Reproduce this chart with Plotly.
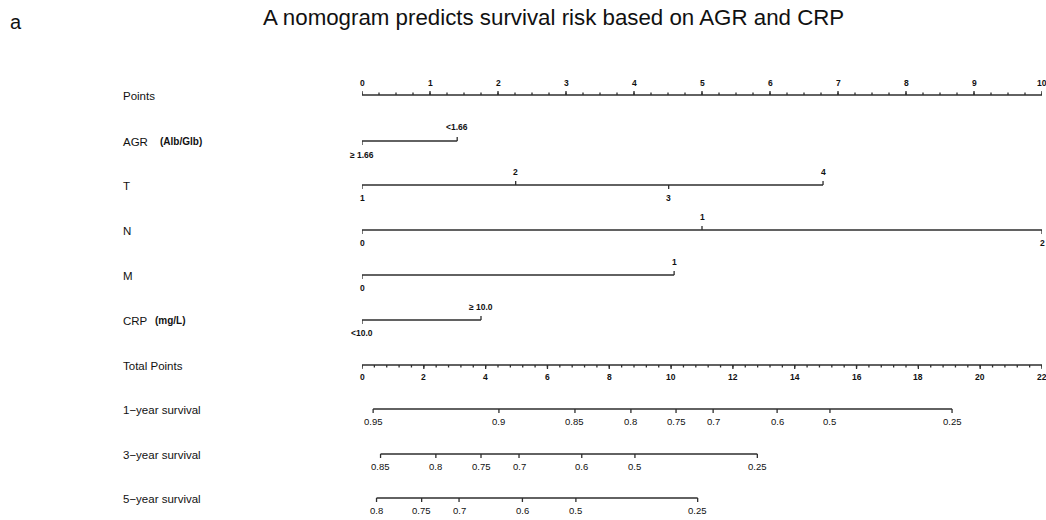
import plotly.graph_objects as go

# ---- figure geometry -------------------------------------------------------
W, H = 1046, 520
X0_PX, X1_PX = 362, 1042          # where the points scale starts / ends
POINTS_MAX = 10
TOTAL_MAX = 22

# ---- data ------------------------------------------------------------------
points_ticks = list(range(0, 11))
points_minor_step = 0.25

agr_labels = ["≥ 1.66", "<1.66"]
agr_points = [0.0, 1.40]

t_labels = ["1", "2", "3", "4"]
t_points = [0.0, 2.26, 4.51, 6.78]

n_labels = ["0", "1", "2"]
n_points = [0.0, 5.0, 10.0]

m_labels = ["0", "1"]
m_points = [0.0, 4.59]

crp_labels = ["<10.0", "≥ 10.0"]
crp_points = [0.0, 1.75]

total_ticks = list(range(0, 23, 2))
total_minor_step = 0.4

surv1_labels = ["0.95", "0.9", "0.85", "0.8", "0.75", "0.7", "0.6", "0.5", "0.25"]
surv1_total = [0.36, 4.43, 6.89, 8.70, 10.16, 11.36, 13.43, 15.14, 19.09]

surv3_labels = ["0.85", "0.8", "0.75", "0.7", "0.6", "0.5", "0.25"]
surv3_total = [0.60, 2.39, 3.85, 5.08, 7.11, 8.83, 12.79]

surv5_labels = ["0.8", "0.75", "0.7", "0.6", "0.5", "0.25"]
surv5_total = [0.47, 1.93, 3.14, 5.19, 6.92, 10.86]

# row names: (main label, unit label)
row_names = [
    ("Points", ""),
    ("AGR", "(Alb/Glb)"),
    ("T", ""),
    ("N", ""),
    ("M", ""),
    ("CRP", "(mg/L)"),
    ("Total Points", ""),
    ("1−year survival", ""),
    ("3−year survival", ""),
    ("5−year survival", ""),
]
row_y = [95, 141, 185, 230, 275, 320, 365, 409, 454, 498]

# ---- styling ---------------------------------------------------------------
LINE = "#2e2e2e"
LW = 1.3
FAMILY = "Liberation Sans, Arial, sans-serif"
TICK_FONT = dict(family=FAMILY, size=8.5, color="#111")
SURV_FONT = dict(family=FAMILY, size=9.5, color="#111")
LABEL_FONT = dict(family=FAMILY, size=11.5, color="#111")
UNIT_FONT = dict(family=FAMILY, size=10, color="#111")

fig = go.Figure()
annotations = []


def to_points(total):
    return total * POINTS_MAX / TOTAL_MAX


def add_segments(xs_pairs, ys_pairs, width=LW):
    xs, ys = [], []
    for (xa, xb), (ya, yb) in zip(xs_pairs, ys_pairs):
        xs += [xa, xb, None]
        ys += [ya, yb, None]
    fig.add_trace(go.Scatter(x=xs, y=ys, mode="lines",
                             line=dict(color=LINE, width=width),
                             hoverinfo="skip", showlegend=False))


def tick_text(x, y, text, bold=True, font=TICK_FONT):
    annotations.append(dict(x=x, y=y, xref="x", yref="y",
                            text=f"<b>{text}</b>" if bold else text,
                            showarrow=False, font=font,
                            xanchor="center", yanchor="middle"))


def scale_axis(y, major, labels, minor_step, lo, hi, up, conv=lambda v: v):
    """Continuous scale with major/minor ticks; ticks point toward labels."""
    d = -1 if up else 1
    segs_x, segs_y = [(conv(lo), conv(hi))], [(y, y)]
    n = int(round((hi - lo) / minor_step))
    for i in range(n + 1):
        v = lo + i * minor_step
        segs_x.append((conv(v), conv(v)))
        segs_y.append((y, y + d * 2.5))
    for v in major:
        segs_x.append((conv(v), conv(v)))
        segs_y.append((y, y + d * 4))
    add_segments(segs_x, segs_y)
    for v, lab in zip(major, labels):
        tick_text(conv(v), y + d * 12, lab)


def category_axis(y, pts, labels, off=13):
    segs_x, segs_y = [(min(pts), max(pts))], [(y, y)]
    for i, p in enumerate(pts):
        d = 1 if i % 2 == 0 else -1       # first label below, then alternate
        segs_x.append((p, p))
        segs_y.append((y, y + d * 4))
        tick_text(p, y + d * off, labels[i])
    add_segments(segs_x, segs_y)


def survival_axis(y, totals, labels):
    pts = [to_points(t) for t in totals]
    segs_x, segs_y = [(min(pts), max(pts))], [(y, y)]
    for p in pts:
        segs_x.append((p, p))
        segs_y.append((y, y + 4))
    add_segments(segs_x, segs_y)
    for p, lab in zip(pts, labels):
        tick_text(p, y + 12, lab, bold=False, font=SURV_FONT)


# Points scale
scale_axis(row_y[0], points_ticks, [str(v) for v in points_ticks],
           points_minor_step, 0, POINTS_MAX, up=True)

# predictors
category_axis(row_y[1], agr_points, agr_labels, off=14)
category_axis(row_y[2], t_points, t_labels)
category_axis(row_y[3], n_points, n_labels)
category_axis(row_y[4], m_points, m_labels)
category_axis(row_y[5], crp_points, crp_labels)

# Total points scale
scale_axis(row_y[6], total_ticks, [str(v) for v in total_ticks],
           total_minor_step, 0, TOTAL_MAX, up=False, conv=to_points)

# survival scales
survival_axis(row_y[7], surv1_total, surv1_labels)
survival_axis(row_y[8], surv3_total, surv3_labels)
survival_axis(row_y[9], surv5_total, surv5_labels)

# row labels on the left
for (name, unit), y in zip(row_names, row_y):
    annotations.append(dict(x=121 / W, y=y + 1, xref="paper", yref="y", text=name,
                            showarrow=False, font=LABEL_FONT,
                            xanchor="left", yanchor="middle"))
    if unit:
        ux = 158 if name == "AGR" else 153
        annotations.append(dict(x=ux / W, y=y, xref="paper", yref="y",
                                text=f"<b>{unit}</b>", showarrow=False, font=UNIT_FONT,
                                xanchor="left", yanchor="middle"))

# panel letter and title
annotations.append(dict(x=8 / W, y=22, xref="paper", yref="y", text="a",
                        showarrow=False, xanchor="left", yanchor="middle",
                        font=dict(family=FAMILY, size=20, color="#111")))
annotations.append(dict(x=553 / W, y=17, xref="paper", yref="y",
                        text="A nomogram predicts survival risk based on AGR and CRP",
                        showarrow=False, xanchor="center", yanchor="middle",
                        font=dict(family=FAMILY, size=22.3, color="#111")))

fig.update_layout(
    width=W, height=H,
    margin=dict(l=0, r=0, t=0, b=0),
    paper_bgcolor="white", plot_bgcolor="white",
    xaxis=dict(domain=[X0_PX / W, X1_PX / W], range=[0, POINTS_MAX],
               visible=False, fixedrange=True),
    yaxis=dict(domain=[0, 1], range=[H, 0], visible=False, fixedrange=True),
    annotations=annotations,
    showlegend=False,
)

fig.write_html("out.html")
